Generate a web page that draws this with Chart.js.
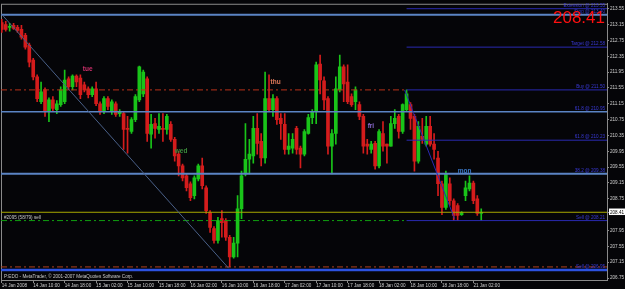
<!DOCTYPE html>
<html>
<head>
<meta charset="utf-8">
<script src="https://cdn.jsdelivr.net/npm/chart.js@4.4.1/dist/chart.umd.min.js"></script>
<style>
  html, body { margin: 0; padding: 0; background: #050508; }
</style>
</head>
<body>
<canvas id="priceChart" width="625" height="289"></canvas>
<script>
// Hourly bars, 14 Jan 2008 -> 21 Jan 2008
const opens = [
    213.20, 213.15, 213.08, 213.13, 213.08, 213.03, 212.88, 212.63, 212.25, 211.83,
    211.20, 211.50, 210.95, 211.25, 211.00, 211.13, 211.20, 211.78, 211.58, 211.85,
    211.80, 211.63, 211.53, 211.38, 211.53, 211.15, 210.95, 211.28, 210.95, 211.15,
    210.90, 210.90, 210.53, 210.45, 210.75, 211.25, 211.40, 211.78, 210.38, 210.65,
    210.50, 210.53, 210.50, 210.63, 210.25, 209.88, 209.58, 209.33, 209.13, 208.83,
    209.25, 209.58, 209.03, 208.40, 208.00, 207.70, 208.25, 208.20, 207.78, 207.28,
    207.63, 208.50, 209.38, 209.75, 209.83, 210.53, 210.20, 209.78, 211.28, 211.00,
    211.28, 210.78, 210.63, 210.00, 210.03, 210.53, 210.03, 209.88, 210.40, 210.80,
    210.95, 212.15, 211.73, 211.28, 210.08, 210.40, 211.50, 212.08, 211.70, 211.33,
    211.20, 211.13, 210.83, 210.13, 210.00, 210.15, 209.58, 210.40, 210.13, 210.08,
    210.65, 210.83, 210.45, 211.00, 211.13, 210.83, 209.70, 210.33, 210.13, 210.58,
    210.13, 209.78, 209.13, 208.53, 209.13, 208.70, 208.58, 208.35, 208.83, 209.00,
    209.15, 208.75, 208.38
];
const highs = [
    213.28, 213.23, 213.18, 213.18, 213.13, 213.13, 212.93, 212.68, 212.30, 211.88,
    211.70, 211.55, 211.30, 211.33, 211.23, 211.58, 212.00, 211.83, 211.88, 211.88,
    211.88, 211.70, 211.58, 211.58, 211.70, 211.20, 211.33, 211.33, 211.25, 211.20,
    211.00, 210.95, 210.83, 210.80, 211.38, 212.10, 212.00, 211.83, 210.88, 210.78,
    210.90, 210.90, 210.88, 210.70, 210.30, 209.95, 209.63, 209.38, 209.18, 209.33,
    209.63, 209.78, 209.08, 208.45, 208.05, 208.28, 208.45, 208.25, 207.83, 207.78,
    208.83, 209.45, 210.65, 210.25, 210.83, 210.90, 210.40, 211.95, 211.88, 211.38,
    211.33, 210.90, 210.90, 210.40, 210.40, 210.58, 210.08, 210.50, 210.88, 211.00,
    212.20, 212.38, 211.83, 211.33, 210.50, 211.83, 212.38, 212.13, 212.13, 211.40,
    211.58, 211.20, 210.88, 210.25, 210.20, 210.20, 210.50, 210.70, 210.13, 210.83,
    211.00, 210.88, 211.15, 211.50, 211.18, 210.88, 210.70, 210.78, 210.83, 210.83,
    210.40, 209.95, 209.20, 209.45, 209.28, 208.75, 208.63, 208.43, 209.20, 209.33,
    209.20, 208.83, 208.50
];
const lows = [
    212.95, 212.98, 212.98, 213.03, 212.95, 212.78, 212.53, 212.08, 211.75, 211.20,
    211.15, 210.83, 210.70, 210.95, 210.90, 211.08, 211.15, 211.50, 211.50, 211.58,
    211.28, 211.45, 211.30, 211.33, 211.10, 210.88, 210.90, 211.00, 210.88, 210.83,
    210.83, 210.00, 209.90, 210.40, 210.70, 211.20, 211.33, 210.20, 210.03, 210.28,
    210.40, 210.20, 210.38, 210.20, 209.70, 209.33, 209.20, 208.95, 208.70, 208.75,
    209.20, 209.00, 208.38, 207.90, 207.63, 207.63, 207.78, 207.70, 207.03, 207.25,
    207.28, 208.25, 209.33, 209.38, 209.65, 209.88, 209.58, 209.65, 210.95, 210.83,
    210.63, 210.25, 209.88, 209.88, 209.90, 209.88, 209.53, 209.83, 210.38, 210.65,
    210.65, 211.40, 211.00, 209.88, 209.38, 210.13, 211.45, 211.20, 211.15, 211.08,
    211.00, 210.75, 209.90, 209.88, 209.90, 209.50, 209.53, 209.95, 209.65, 210.08,
    210.53, 210.28, 210.40, 210.95, 210.50, 209.45, 209.65, 210.15, 210.08, 210.08,
    209.75, 208.83, 208.35, 208.48, 208.58, 208.20, 208.20, 208.33, 208.70, 208.95,
    208.63, 208.33, 208.20
];
const closes = [
    213.03, 213.03, 213.10, 213.05, 213.00, 212.83, 212.58, 212.20, 211.83, 211.28,
    211.45, 210.95, 211.25, 211.03, 211.15, 211.50, 211.75, 211.58, 211.85, 211.70,
    211.38, 211.50, 211.38, 211.53, 211.15, 210.95, 211.28, 211.08, 211.20, 210.88,
    210.95, 210.50, 210.50, 210.75, 211.33, 212.08, 211.95, 210.40, 210.63, 210.53,
    210.58, 210.50, 210.83, 210.25, 209.83, 209.58, 209.28, 209.03, 208.78, 209.28,
    209.58, 209.08, 208.45, 208.03, 207.70, 208.20, 208.15, 207.78, 207.28, 207.63,
    208.50, 209.33, 209.75, 209.88, 210.53, 210.15, 209.78, 211.28, 211.00, 211.28,
    210.75, 210.65, 210.00, 210.08, 210.25, 210.00, 209.88, 210.45, 210.80, 210.95,
    212.13, 211.75, 211.25, 210.08, 210.40, 211.53, 212.08, 211.65, 211.20, 211.13,
    211.50, 210.83, 210.08, 210.08, 210.13, 209.58, 210.45, 210.08, 210.08, 210.65,
    210.78, 210.45, 211.13, 211.40, 210.78, 209.70, 210.58, 210.25, 210.58, 210.13,
    210.00, 209.13, 208.53, 209.38, 208.70, 208.33, 208.33, 208.40, 209.03, 209.15,
    208.70, 208.38, 208.41
];
const lastPrice = 208.41;

// time axis: one label every 8 bars
const timeTickIdx = [0, 8, 16, 24, 32, 40, 48, 56, 64, 72, 80, 88, 96, 104, 112, 120];
const timeLabels = [
    '14 Jan 2008', '14 Jan 10:00', '14 Jan 18:00', '15 Jan 02:00', '15 Jan 10:00',
    '15 Jan 18:00', '16 Jan 02:00', '16 Jan 10:00', '16 Jan 18:00', '17 Jan 02:00',
    '17 Jan 10:00', '17 Jan 18:00', '18 Jan 02:00', '18 Jan 10:00', '18 Jan 18:00',
    '21 Jan 02:00'
];
const priceTicks = [
    206.75, 207.15, 207.55, 207.95, 208.41, 208.75, 209.15, 209.55, 209.95, 210.35,
    210.75, 211.15, 211.55, 211.95, 212.35, 212.75, 213.15, 213.55
];

// fibonacci levels (full width)
const fibPrices = [213.40, 210.95, 209.38];
const fibLabels = ['Stop @ 213.40', '61.8 @ 210.95', '38.2 @ 209.38'];
// order / target levels (drawn from the last swing to the right edge)
const orderPrices = [213.55, 212.58, 211.50, 210.23, 208.20];
const orderLabels = ['Extension @ 213.55', 'Target @ 212.58', 'Buy @ 211.50', '61.8 @ 210.23', 'Sell @ 208.21'];
const stopPrice = 206.95;
const stopLabel = 'Sell @ 206.95';
const tradeLines = [211.50, 208.20];   // dash-dot, left part
const lowDashPrice = 207.03;

const X_MIN = -0.2, X_MAX = 154;
const LEVEL_START = 103;

const BULL = '#19c419';
const BEAR = '#d41c1c';
const FIB = '#5b84c4';
const NAVY = '#2a2ab0';
const FONT = '"Liberation Sans", Arial, sans-serif';

const idx = opens.map((_, i) => i);
const candleColors = idx.map(i => closes[i] >= opens[i] ? BULL : BEAR);

function hLine(price, from, to, color, width, dash) {
    return {
        type: 'line',
        data: [{ x: from, y: price }, { x: to, y: price }],
        borderColor: color,
        borderWidth: width,
        borderDash: dash || [],
        pointRadius: 0,
        order: 1
    };
}

const datasets = [
    {
        type: 'bar',
        data: idx.map(i => ({ x: i, y: [lows[i], highs[i]] })),
        backgroundColor: candleColors,
        barThickness: 1,
        grouped: false,
        order: 3
    },
    {
        type: 'bar',
        data: idx.map(i => ({ x: i, y: [opens[i], closes[i]] })),
        backgroundColor: candleColors,
        barThickness: 3,
        minBarLength: 1,
        grouped: false,
        order: 2
    },
    // trend lines
    {
        type: 'line',
        data: [{ x: 0.05, y: 213.40 }, { x: 57.7, y: 207.0 }],
        borderColor: '#4a6088', borderWidth: 1, pointRadius: 0, order: 1
    },
    {
        type: 'line',
        data: [{ x: 102.5, y: 211.50 }, { x: 115.2, y: 208.25 }],
        borderColor: NAVY, borderWidth: 1, pointRadius: 0, order: 1
    }
];
fibPrices.forEach((p, k) => datasets.push(hLine(p, X_MIN, X_MAX, FIB, k === 1 ? 1.5 : 2)));
orderPrices.forEach(p => datasets.push(hLine(p, LEVEL_START, X_MAX, NAVY, 1)));
datasets.push(hLine(tradeLines[0], X_MIN, LEVEL_START, '#b8321a', 1, [6, 3, 2, 3]));
datasets.push(hLine(tradeLines[1], X_MIN, LEVEL_START, '#10a010', 1, [6, 3, 2, 3]));
datasets.push(hLine(lastPrice, X_MIN, X_MAX, '#a8a800', 1));
datasets.push(hLine(lowDashPrice, X_MIN, X_MAX, '#b04020', 1, [6, 3, 2, 3]));
datasets.push(hLine(stopPrice, X_MIN, X_MAX, '#2c52e0', 2.5));

// text notes placed in bar / price units
const notes = [
    { text: 'tue', x: 20.6, y: 212.03, color: '#d0306c' },
    { text: 'thu', x: 68.4, y: 211.69, color: '#e07a5a' },
    { text: 'wed', x: 44.0, y: 209.94, color: '#3c8c3c' },
    { text: 'fri', x: 93.1, y: 210.59, color: '#8c6cd0' },
    { text: 'mon', x: 116.0, y: 209.44, color: '#3a78c8' }
];

const backdrop = {
    id: 'backdrop',
    beforeDraw(chart) {
        const { ctx, width, height } = chart;
        ctx.save();
        ctx.fillStyle = '#050508';
        ctx.fillRect(0, 0, width, height);
        ctx.restore();
    },
    beforeDatasetsDraw(chart) {
        const { ctx, chartArea: a } = chart;
        ctx.save();
        ctx.strokeStyle = '#8a8a8a';
        ctx.lineWidth = 1;
        ctx.strokeRect(a.left + 0.5, a.top + 0.5, a.right - a.left, a.bottom - a.top);
        ctx.restore();
    }
};

const texts = {
    id: 'texts',
    afterDraw(chart) {
        const { ctx, chartArea: a, scales: { x, y } } = chart;
        ctx.save();
        ctx.textBaseline = 'middle';
        ctx.textAlign = 'left';
        ctx.font = 'bold 6.5px ' + FONT;
        notes.forEach(n => {
            ctx.fillStyle = n.color;
            ctx.fillText(n.text, x.getPixelForValue(n.x), y.getPixelForValue(n.y));
        });

        // level captions, right aligned above each line
        ctx.font = '4.6px ' + FONT;
        ctx.textAlign = 'right';
        ctx.textBaseline = 'bottom';
        ctx.fillStyle = '#3a3ad8';
        fibPrices.forEach((p, k) => ctx.fillText(fibLabels[k], a.right - 2, y.getPixelForValue(p) - 1));
        orderPrices.forEach((p, k) => ctx.fillText(orderLabels[k], a.right - 2, y.getPixelForValue(p) - 1));
        ctx.fillText(stopLabel, a.right - 2, y.getPixelForValue(stopPrice) - 1);

        ctx.textAlign = 'left';
        ctx.fillStyle = '#c8c8c8';
        ctx.fillText('#2095 (58/79) sell', a.left + 3, y.getPixelForValue(tradeLines[1]) - 1);
        ctx.textBaseline = 'middle';
        ctx.fillText('P:EDO - MetaTrader, \u00a9 2001-2007 MetaQuotes Software Corp.', a.left + 3, a.bottom - 3);

        ctx.font = '17px ' + FONT;
        ctx.textAlign = 'right';
        ctx.textBaseline = 'alphabetic';
        ctx.fillStyle = '#ff1010';
        ctx.fillText(lastPrice.toFixed(2), a.right - 2, a.top + 19);
        ctx.restore();
    }
};

const priceChart = new Chart(
    document.getElementById('priceChart'),
    {
        type: 'bar',
        data: { datasets: datasets },
        options: {
            responsive: false,
            animation: false,
            layout: { padding: { left: 1, top: 1, right: 0, bottom: 0 } },
            plugins: { legend: { display: false }, tooltip: { enabled: false } },
            scales: {
                x: {
                    type: 'linear',
                    min: X_MIN,
                    max: X_MAX,
                    offset: false,
                    afterBuildTicks: ax => { ax.ticks = timeTickIdx.map(v => ({ value: v })); },
                    afterFit: ax => { ax.height = 9; },
                    ticks: {
                        callback: (v, i) => timeLabels[i],
                        align: 'start',
                        maxRotation: 0,
                        autoSkip: false,
                        padding: 0,
                        color: '#d0d0d0',
                        font: { size: 4.6, family: FONT }
                    },
                    grid: { drawOnChartArea: false, offset: false, tickLength: 3, color: '#8a8a8a' },
                    border: { color: '#8a8a8a' }
                },
                y: {
                    type: 'linear',
                    position: 'right',
                    min: 206.70,
                    max: 213.675,
                    beginAtZero: false,
                    afterBuildTicks: ax => { ax.ticks = priceTicks.map(v => ({ value: v })); },
                    afterFit: ax => { ax.width = 18; },
                    ticks: {
                        callback: v => v.toFixed(2),
                        padding: 1,
                        color: ctx => (ctx.tick && ctx.tick.value === lastPrice) ? '#000' : '#d0d0d0',
                        showLabelBackdrop: ctx => !!(ctx.tick && ctx.tick.value === lastPrice),
                        backdropColor: '#ffffff',
                        backdropPadding: { top: 1, bottom: 0, left: 1, right: 1 },
                        font: { size: 4.6, family: FONT }
                    },
                    grid: { drawOnChartArea: false, tickLength: 2, color: '#8a8a8a' },
                    border: { color: '#8a8a8a' }
                }
            }
        },
        plugins: [backdrop, texts]
    }
);
</script>
</body>
</html>
